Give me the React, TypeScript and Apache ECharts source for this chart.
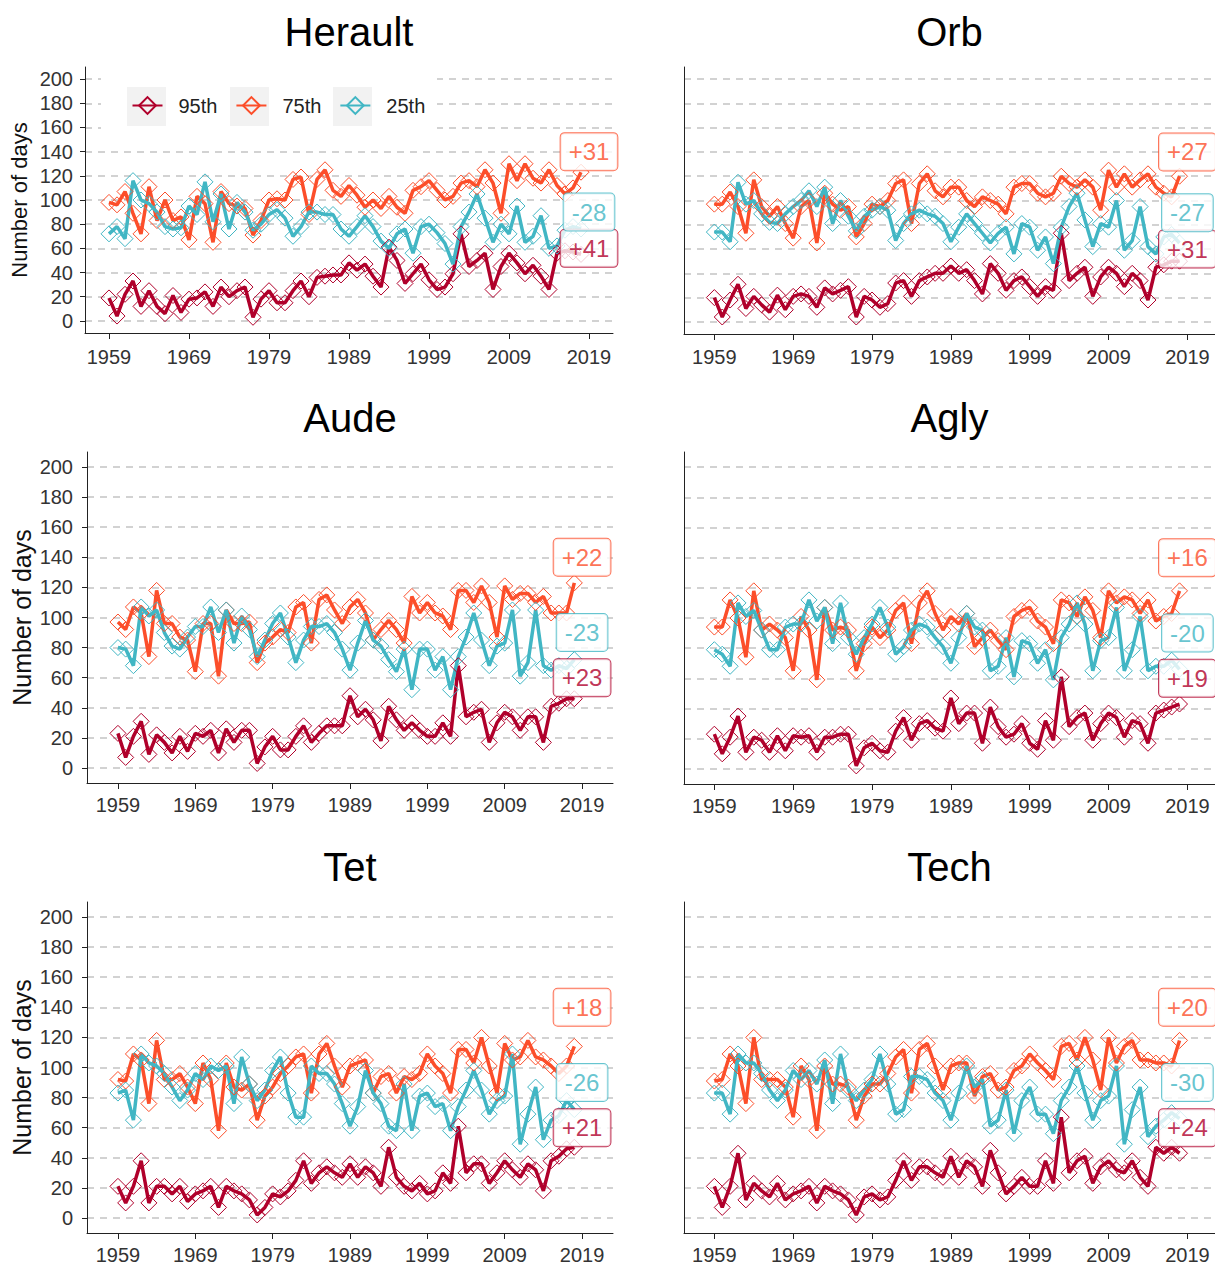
import React, { useEffect, useRef } from "react";
import * as echarts from "echarts";

const years = [
  1959, 1960, 1961, 1962, 1963, 1964, 1965, 1966, 1967, 1968,
  1969, 1970, 1971, 1972, 1973, 1974, 1975, 1976, 1977, 1978,
  1979, 1980, 1981, 1982, 1983, 1984, 1985, 1986, 1987, 1988,
  1989, 1990, 1991, 1992, 1993, 1994, 1995, 1996, 1997, 1998,
  1999, 2000, 2001, 2002, 2003, 2004, 2005, 2006, 2007, 2008,
  2009, 2010, 2011, 2012, 2013, 2014, 2015, 2016, 2017, 2018,
];
const xTicks = [1959, 1969, 1979, 1989, 1999, 2009, 2019];
const yTicks = [0, 20, 40, 60, 80, 100, 120, 140, 160, 180, 200];
const seriesNames = ["95th", "75th", "25th"];
const panelNames = ["Herault", "Orb", "Aude", "Agly", "Tet", "Tech"];

// ---- Herault
const heraultP95 = [19, 4, 22, 33, 12, 25, 12, 6, 21, 7, 18, 19, 24, 12, 28, 20, 25, 28, 3, 18, 25, 15, 15, 25, 33, 20, 36, 37, 38, 38, 48, 42, 47, 37, 28, 61, 50, 31, 39, 47, 34, 26, 28, 39, 72, 45, 50, 56, 26, 45, 56, 48, 39, 46, 37, 26, 56, 58, 57, 55];
const heraultP75 = [98, 96, 107, 89, 72, 111, 83, 100, 83, 86, 67, 103, 97, 65, 107, 97, 95, 93, 71, 83, 100, 101, 100, 117, 119, 88, 117, 125, 108, 103, 112, 104, 94, 100, 93, 103, 94, 89, 108, 111, 116, 108, 100, 103, 114, 116, 111, 125, 114, 89, 130, 116, 130, 118, 114, 125, 112, 105, 110, 123];
const heraultP25 = [72, 78, 68, 116, 100, 97, 90, 78, 76, 77, 95, 88, 115, 82, 105, 76, 98, 90, 75, 80, 88, 92, 85, 70, 78, 90, 90, 88, 88, 76, 70, 78, 87, 78, 66, 60, 72, 76, 56, 78, 80, 73, 64, 47, 78, 90, 105, 85, 65, 80, 72, 95, 65, 70, 87, 60, 62, 75, 78, 76];
const heraultLabels = ["+41", "+31", "-28"];

// ---- Orb
const orbP95 = [20, 4, 18, 31, 11, 21, 14, 8, 22, 10, 21, 23, 21, 12, 28, 23, 26, 29, 4, 21, 18, 12, 15, 32, 34, 21, 34, 37, 40, 40, 46, 40, 43, 34, 23, 48, 40, 26, 34, 37, 29, 21, 29, 26, 73, 34, 40, 45, 21, 37, 45, 40, 29, 40, 34, 18, 45, 47, 50, 50];
const orbP75 = [97, 97, 107, 95, 73, 117, 95, 87, 95, 81, 69, 95, 100, 65, 106, 97, 92, 95, 70, 81, 97, 95, 100, 114, 117, 81, 114, 122, 108, 103, 111, 111, 100, 95, 103, 100, 97, 89, 111, 114, 114, 106, 103, 106, 120, 114, 111, 117, 111, 92, 125, 111, 122, 111, 117, 122, 111, 106, 103, 120];
const orbP25 = [74, 74, 66, 115, 97, 100, 89, 82, 81, 89, 95, 100, 108, 95, 111, 81, 100, 87, 75, 87, 92, 95, 92, 67, 81, 89, 92, 89, 87, 81, 66, 78, 89, 81, 73, 65, 73, 78, 56, 81, 78, 59, 70, 48, 78, 95, 106, 84, 62, 81, 78, 100, 59, 67, 95, 62, 56, 70, 72, 65];
const orbLabels = ["+31", "+27", "-27"];

// ---- Aude
const audeP95 = [23, 7, 21, 31, 9, 22, 17, 10, 21, 11, 23, 21, 25, 10, 26, 17, 25, 25, 3, 14, 21, 12, 12, 21, 28, 17, 23, 28, 28, 28, 48, 34, 39, 32, 18, 41, 32, 25, 30, 25, 21, 21, 30, 21, 68, 34, 37, 39, 17, 30, 37, 34, 25, 34, 34, 17, 41, 43, 46, 46];
const audeP75 = [97, 92, 107, 103, 74, 118, 96, 96, 87, 85, 64, 96, 96, 61, 105, 96, 96, 97, 70, 83, 87, 92, 90, 107, 110, 83, 112, 115, 105, 96, 107, 112, 103, 85, 92, 98, 92, 83, 114, 103, 110, 103, 101, 92, 118, 118, 110, 121, 110, 87, 121, 112, 116, 116, 110, 114, 103, 103, 103, 123];
const audeP25 = [80, 79, 68, 107, 101, 105, 90, 81, 79, 87, 94, 94, 107, 90, 105, 83, 101, 92, 74, 85, 96, 103, 87, 70, 85, 94, 94, 96, 90, 79, 65, 83, 98, 85, 81, 72, 64, 79, 52, 79, 79, 65, 74, 52, 74, 87, 103, 85, 68, 81, 83, 105, 61, 70, 105, 68, 65, 68, 66, 72];
const audeLabels = ["+23", "+22", "-23"];

// ---- Agly
const aglyP95 = [23, 10, 21, 35, 11, 21, 19, 11, 22, 12, 22, 21, 22, 11, 21, 21, 23, 23, 2, 14, 17, 12, 11, 25, 34, 19, 30, 32, 27, 25, 47, 30, 37, 37, 17, 41, 28, 21, 23, 30, 17, 13, 32, 19, 61, 28, 34, 37, 19, 30, 37, 34, 21, 32, 30, 17, 37, 39, 41, 43];
const aglyP75 = [94, 94, 112, 100, 74, 118, 92, 96, 92, 87, 65, 101, 92, 59, 107, 92, 94, 92, 65, 83, 94, 87, 92, 105, 110, 83, 110, 118, 103, 92, 101, 96, 103, 81, 87, 92, 85, 79, 101, 105, 107, 98, 94, 83, 112, 110, 101, 114, 105, 87, 118, 110, 114, 112, 103, 112, 98, 101, 103, 118];
const aglyP25 = [79, 76, 68, 110, 101, 105, 92, 79, 79, 94, 96, 96, 112, 98, 107, 83, 110, 87, 76, 87, 96, 107, 94, 76, 81, 92, 96, 94, 87, 81, 70, 87, 103, 94, 92, 65, 68, 87, 61, 85, 83, 70, 79, 59, 87, 96, 110, 96, 65, 85, 87, 107, 65, 79, 101, 65, 68, 68, 72, 66];
const aglyLabels = ["+19", "+16", "-20"];

// ---- Tet
const tetP95 = [21, 10, 21, 38, 10, 21, 21, 16, 21, 11, 16, 18, 21, 7, 21, 18, 16, 12, 2, 7, 16, 14, 18, 25, 38, 23, 30, 34, 30, 27, 36, 27, 34, 30, 21, 47, 27, 21, 18, 23, 16, 18, 30, 23, 61, 30, 36, 36, 23, 30, 38, 32, 27, 36, 32, 18, 38, 41, 46, 47];
const tetP75 = [92, 91, 109, 105, 76, 118, 92, 92, 96, 87, 76, 103, 92, 58, 103, 87, 85, 89, 65, 81, 87, 96, 101, 107, 109, 83, 109, 116, 101, 87, 101, 103, 105, 83, 94, 96, 83, 94, 92, 96, 109, 101, 96, 83, 112, 112, 103, 120, 101, 83, 116, 105, 107, 118, 107, 105, 101, 96, 101, 114];
const tetP25 = [83, 85, 65, 109, 103, 101, 96, 87, 78, 85, 96, 92, 101, 98, 101, 76, 107, 89, 78, 85, 98, 107, 83, 67, 67, 101, 96, 96, 89, 76, 61, 74, 98, 83, 76, 61, 58, 89, 58, 81, 83, 74, 76, 58, 74, 85, 98, 85, 69, 78, 81, 109, 49, 69, 87, 52, 65, 68, 78, 72];
const tetLabels = ["+21", "+18", "-26"];

// ---- Tech
const techP95 = [21, 7, 21, 43, 12, 23, 18, 14, 23, 12, 16, 18, 21, 10, 21, 18, 16, 12, 2, 14, 16, 12, 14, 25, 38, 25, 34, 34, 30, 27, 41, 27, 38, 34, 21, 45, 30, 16, 21, 27, 21, 21, 38, 23, 67, 30, 38, 41, 23, 34, 38, 32, 30, 38, 27, 21, 47, 43, 47, 43];
const techP75 = [91, 92, 109, 101, 76, 120, 92, 92, 92, 87, 67, 101, 92, 58, 101, 89, 89, 87, 65, 81, 89, 89, 96, 107, 112, 83, 112, 116, 101, 85, 101, 103, 103, 81, 94, 96, 85, 87, 98, 101, 109, 103, 98, 92, 114, 116, 105, 120, 105, 85, 120, 103, 114, 118, 105, 105, 103, 103, 101, 118];
const techP25 = [83, 83, 69, 109, 103, 103, 96, 85, 78, 85, 98, 92, 98, 89, 105, 76, 109, 85, 78, 85, 92, 109, 89, 69, 72, 94, 94, 92, 83, 78, 65, 83, 101, 87, 92, 61, 65, 85, 56, 78, 87, 69, 69, 56, 78, 87, 101, 83, 65, 78, 81, 101, 49, 72, 87, 54, 61, 65, 70, 66];
const techLabels = ["+24", "+20", "-30"];

// label anchor (year, value) for 95th, 75th, 25th change labels
const labelYear = 2019;
const labelValues = [60, 140, 90];

const panelData = [
  [heraultP95, heraultP75, heraultP25, heraultLabels],
  [orbP95, orbP75, orbP25, orbLabels],
  [audeP95, audeP75, audeP25, audeLabels],
  [aglyP95, aglyP75, aglyP25, aglyLabels],
  [tetP95, tetP75, tetP25, tetLabels],
  [techP95, techP75, techP25, techLabels],
];

const FONT = '"Liberation Sans", Arial, Helvetica, sans-serif';
const COLORS = ["#B0002B", "#FC4E2A", "#41B6C4"];

const layouts = [
  { left: 85, top: 67, width: 528, height: 266, xMin: 1956, xMax: 2022, yShow: true, nameSize: 22, nameGap: 55, xMargin: 14, yMargin: 12, titleTop: 12 },
  { left: 684, top: 67, width: 531, height: 267, xMin: 1955.15, xMax: 2022.5, yShow: false, nameSize: 22, nameGap: 55, xMargin: 13, yMargin: 12, titleTop: 12 },
  { left: 87, top: 452, width: 526, height: 331, xMin: 1955, xMax: 2023, yShow: true, nameSize: 25, nameGap: 53, xMargin: 12, yMargin: 14, titleTop: 398 },
  { left: 684, top: 452, width: 531, height: 332, xMin: 1955.15, xMax: 2022.5, yShow: false, nameSize: 25, nameGap: 53, xMargin: 12, yMargin: 14, titleTop: 398 },
  { left: 87, top: 902, width: 526, height: 331, xMin: 1955, xMax: 2023, yShow: true, nameSize: 25, nameGap: 53, xMargin: 12, yMargin: 14, titleTop: 847 },
  { left: 684, top: 902, width: 531, height: 331, xMin: 1955.15, xMax: 2022.5, yShow: false, nameSize: 25, nameGap: 53, xMargin: 12, yMargin: 14, titleTop: 847 },
];

function buildOption() {
  const grid: any[] = [];
  const xAxis: any[] = [];
  const yAxis: any[] = [];
  const title: any[] = [];
  const series: any[] = [];

  layouts.forEach((L, i) => {
    grid.push({ left: L.left, top: L.top, width: L.width, height: L.height, containLabel: false });
    title.push({
      text: panelNames[i],
      left: L.left + L.width / 2,
      top: L.titleTop,
      textAlign: "center",
      padding: 0,
      textStyle: { fontSize: 40, fontWeight: "normal", color: "#000", fontFamily: FONT },
    });
    xAxis.push({
      type: "value",
      gridIndex: i,
      min: L.xMin,
      max: L.xMax,
      axisLine: { show: true, onZero: false, lineStyle: { color: "#222", width: 1 } },
      axisTick: { show: true, length: 6, customValues: xTicks, lineStyle: { color: "#222" } },
      axisLabel: {
        customValues: xTicks,
        fontSize: 20,
        color: "#333",
        fontFamily: FONT,
        margin: L.xMargin,
        formatter: (v: number) => String(v),
      },
      splitLine: { show: false },
    });
    yAxis.push({
      type: "value",
      gridIndex: i,
      min: -10,
      max: 210,
      axisLine: { show: true, onZero: false, lineStyle: { color: "#222", width: 1 } },
      axisTick: { show: L.yShow, length: 5, customValues: yTicks, lineStyle: { color: "#222" } },
      axisLabel: {
        show: L.yShow,
        customValues: yTicks,
        fontSize: 20,
        color: "#333",
        fontFamily: FONT,
        margin: L.yMargin,
        formatter: (v: number) => String(v),
      },
      splitLine: { show: true, lineStyle: { type: [7, 6], color: "#C4C4C4", width: 1.5 } },
      name: L.yShow ? "Number of days" : "",
      nameLocation: "middle",
      nameGap: L.nameGap,
      nameTextStyle: { fontSize: L.nameSize, color: "#111", fontFamily: FONT },
    });

    const pd = panelData[i];
    for (let s = 0; s < 3; s++) {
      const vals = pd[s] as number[];
      series.push({
        type: "line",
        name: seriesNames[s],
        xAxisIndex: i,
        yAxisIndex: i,
        data: years.map((y, k) => [y, vals[k]]),
        symbol: "diamond",
        symbolSize: 16,
        showAllSymbol: true,
        lineStyle: { color: COLORS[s], width: 3.5 },
        itemStyle: { color: "rgba(255,255,255,0)", borderColor: COLORS[s], borderWidth: 1 },
        emphasis: { disabled: true },
        silent: true,
        z: 2,
      });
    }
    const labs = pd[3] as string[];
    series.push({
      type: "scatter",
      name: panelNames[i] + " change",
      xAxisIndex: i,
      yAxisIndex: i,
      symbolSize: 1,
      itemStyle: { color: "rgba(0,0,0,0)" },
      silent: true,
      z: 10,
      data: labs.map((t, s) => ({
        name: t,
        value: [labelYear, labelValues[s]],
        label: {
          show: true,
          position: "inside",
          formatter: "{b}",
          fontSize: 24,
          lineHeight: 25,
          fontFamily: FONT,
          color: COLORS[s],
          backgroundColor: "#fff",
          borderColor: COLORS[s],
          borderWidth: 1,
          borderRadius: 4,
          padding: [6, 8, 6, 8],
        },
      })),
    });
  });

  const keyBoxes = [127, 230, 333].map((x) => ({
    type: "rect",
    z: 1,
    silent: true,
    shape: { x, y: 87, width: 39, height: 39 },
    style: { fill: "#F2F2F2" },
  }));

  return {
    animation: false,
    backgroundColor: "#fff",
    textStyle: { fontFamily: FONT },
    title,
    grid,
    xAxis,
    yAxis,
    series,
    legend: {
      data: seriesNames,
      left: 131.5,
      top: 95.5,
      padding: 0,
      itemWidth: 30,
      itemHeight: 21,
      itemGap: 18,
      selectedMode: false,
      textStyle: { fontSize: 20, color: "#222", fontFamily: FONT, padding: [0, 0, 0, 11] },
    },
    graphic: [
      {
        type: "rect",
        z: 1,
        silent: true,
        shape: { x: 101, y: 71, width: 336, height: 66 },
        style: { fill: "#fff" },
      },
      ...keyBoxes,
    ],
  };
}

export default function App() {
  const ref = useRef<HTMLDivElement>(null);
  useEffect(() => {
    document.body.style.margin = "0";
    if (!ref.current) return;
    const chart = echarts.init(ref.current, undefined, { renderer: "svg" });
    chart.setOption(buildOption() as any);
    return () => chart.dispose();
  }, []);
  return <div ref={ref} style={{ width: 1215, height: 1266 }} />;
}
